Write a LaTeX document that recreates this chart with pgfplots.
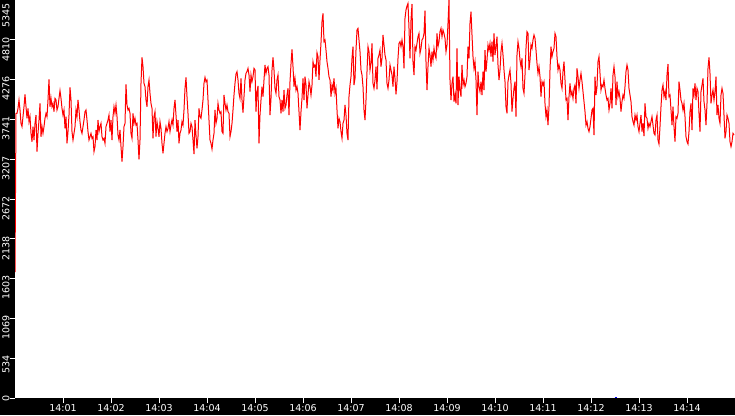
\documentclass[border=0pt]{standalone}
\usepackage{fontspec}
\setmainfont{DejaVu Sans}
\usepackage{pgfplots}
\usepackage{pgfplotstable}
\pgfplotsset{compat=1.18}

% one sample every 1.25 s, from 14:00:00
\pgfplotstableread[row sep=\\]{
v \\
1690 \\ 3823 \\ 3823 \\ 3890 \\ 4002 \\ 3868 \\ 3688 \\ 3644 \\ 3778 \\ 3912 \\
4078 \\ 3912 \\ 3756 \\ 3890 \\ 3711 \\ 3778 \\ 3554 \\ 3442 \\ 3644 \\ 3465 \\
3688 \\ 3800 \\ 3308 \\ 3554 \\ 3733 \\ 3957 \\ 3509 \\ 3644 \\ 3554 \\ 3644 \\
3756 \\ 3823 \\ 3778 \\ 4002 \\ 4280 \\ 3912 \\ 4024 \\ 3912 \\ 3957 \\ 3845 \\
4024 \\ 4002 \\ 3868 \\ 3912 \\ 4024 \\ 4127 \\ 4024 \\ 3890 \\ 3800 \\ 3868 \\
3621 \\ 3778 \\ 3420 \\ 3577 \\ 3800 \\ 4172 \\ 4002 \\ 3577 \\ 3465 \\ 3554 \\
3644 \\ 3868 \\ 3778 \\ 4002 \\ 3868 \\ 3711 \\ 3599 \\ 3554 \\ 3644 \\ 3733 \\
3845 \\ 3868 \\ 3733 \\ 3577 \\ 3465 \\ 3509 \\ 3554 \\ 3487 \\ 3509 \\ 3308 \\
3375 \\ 3599 \\ 3465 \\ 3733 \\ 3577 \\ 3644 \\ 3688 \\ 3509 \\ 3465 \\ 3487 \\
3420 \\ 3644 \\ 3688 \\ 3733 \\ 3800 \\ 3577 \\ 3733 \\ 3465 \\ 3778 \\ 3912 \\
3823 \\ 3935 \\ 3778 \\ 3532 \\ 3465 \\ 3599 \\ 3375 \\ 3174 \\ 3375 \\ 3644 \\
3688 \\ 4212 \\ 3935 \\ 3868 \\ 3890 \\ 3823 \\ 3554 \\ 3487 \\ 3823 \\ 3688 \\
3756 \\ 3666 \\ 3688 \\ 3465 \\ 3205 \\ 3465 \\ 4226 \\ 4575 \\ 4450 \\ 4226 \\
4181 \\ 4002 \\ 3912 \\ 4181 \\ 4271 \\ 4091 \\ 3957 \\ 3890 \\ 3487 \\ 3778 \\
3845 \\ 3509 \\ 3711 \\ 3621 \\ 3509 \\ 3711 \\ 3621 \\ 3420 \\ 3286 \\ 3420 \\
3554 \\ 3644 \\ 3577 \\ 3621 \\ 3711 \\ 3577 \\ 3666 \\ 3733 \\ 3666 \\ 3890 \\
4002 \\ 3800 \\ 3577 \\ 3733 \\ 3420 \\ 3554 \\ 3599 \\ 3711 \\ 3666 \\ 3868 \\
4159 \\ 4306 \\ 4047 \\ 3823 \\ 3554 \\ 3577 \\ 3688 \\ 3644 \\ 3465 \\ 3277 \\
3733 \\ 3532 \\ 3353 \\ 3509 \\ 3890 \\ 3778 \\ 3756 \\ 3868 \\ 4002 \\ 4226 \\
4306 \\ 4248 \\ 4271 \\ 4002 \\ 3733 \\ 3465 \\ 3420 \\ 3344 \\ 3465 \\ 3554 \\
3868 \\ 3688 \\ 3756 \\ 3957 \\ 3868 \\ 3823 \\ 3845 \\ 3577 \\ 3554 \\ 4069 \\
3957 \\ 3868 \\ 3935 \\ 3845 \\ 3823 \\ 3509 \\ 3577 \\ 3688 \\ 3868 \\ 4069 \\
4226 \\ 4351 \\ 4383 \\ 4271 \\ 4091 \\ 4024 \\ 4293 \\ 4002 \\ 3832 \\ 4047 \\
4271 \\ 4360 \\ 4383 \\ 4427 \\ 4338 \\ 4114 \\ 4338 \\ 4248 \\ 4315 \\ 4427 \\
4405 \\ 3845 \\ 4114 \\ 4190 \\ 3420 \\ 3800 \\ 4002 \\ 4181 \\ 4047 \\ 4271 \\
4472 \\ 4360 \\ 4427 \\ 4450 \\ 4338 \\ 3800 \\ 4024 \\ 4405 \\ 4575 \\ 4405 \\
4159 \\ 4091 \\ 4271 \\ 4338 \\ 4047 \\ 4002 \\ 3823 \\ 4002 \\ 3845 \\ 4136 \\
3890 \\ 3935 \\ 4069 \\ 4159 \\ 3800 \\ 4248 \\ 4485 \\ 4682 \\ 4450 \\ 4181 \\
4293 \\ 4136 \\ 4181 \\ 4091 \\ 3845 \\ 3599 \\ 3845 \\ 4024 \\ 4293 \\ 4002 \\
4315 \\ 4203 \\ 3890 \\ 4069 \\ 4248 \\ 4181 \\ 4069 \\ 4203 \\ 4517 \\ 4450 \\
4472 \\ 4315 \\ 4638 \\ 4584 \\ 4271 \\ 4539 \\ 4772 \\ 5054 \\ 5166 \\ 4785 \\
4808 \\ 4673 \\ 4517 \\ 4427 \\ 4315 \\ 4271 \\ 4047 \\ 4203 \\ 4136 \\ 4293 \\
4091 \\ 4159 \\ 3868 \\ 3621 \\ 3756 \\ 3711 \\ 3577 \\ 3487 \\ 3688 \\ 3733 \\
3935 \\ 3800 \\ 3554 \\ 3465 \\ 4047 \\ 4203 \\ 4315 \\ 4562 \\ 4718 \\ 4203 \\
4293 \\ 4673 \\ 4942 \\ 4964 \\ 4808 \\ 4651 \\ 4405 \\ 4338 \\ 4181 \\ 3868 \\
3733 \\ 4002 \\ 4383 \\ 4718 \\ 4651 \\ 4405 \\ 4494 \\ 4763 \\ 4226 \\ 4159 \\
4271 \\ 4450 \\ 4145 \\ 4562 \\ 4606 \\ 4673 \\ 4450 \\ 4562 \\ 4875 \\ 4741 \\
4606 \\ 4539 \\ 4226 \\ 4159 \\ 4271 \\ 4472 \\ 4405 \\ 4338 \\ 4181 \\ 4450 \\
4293 \\ 4078 \\ 4248 \\ 4562 \\ 4763 \\ 4785 \\ 4718 \\ 4808 \\ 4718 \\ 4427 \\
5099 \\ 5211 \\ 5264 \\ 5300 \\ 4964 \\ 4562 \\ 5076 \\ 5291 \\ 4517 \\ 4338 \\
4718 \\ 4673 \\ 4763 \\ 4852 \\ 4897 \\ 4629 \\ 4696 \\ 4808 \\ 4830 \\ 4897 \\
5202 \\ 4517 \\ 4136 \\ 4450 \\ 4696 \\ 4606 \\ 4450 \\ 4651 \\ 4539 \\ 4696 \\
4606 \\ 4562 \\ 4897 \\ 4718 \\ 4785 \\ 4920 \\ 4964 \\ 4852 \\ 4942 \\ 4897 \\
4830 \\ 4651 \\ 4741 \\ 5032 \\ 5345 \\ 4271 \\ 4002 \\ 4226 \\ 4315 \\ 3980 \\
4069 \\ 3957 \\ 4696 \\ 3935 \\ 4315 \\ 4136 \\ 4047 \\ 4472 \\ 4203 \\ 4271 \\
4181 \\ 4226 \\ 4315 \\ 4718 \\ 4562 \\ 5032 \\ 5189 \\ 4875 \\ 4584 \\ 4427 \\
4517 \\ 4271 \\ 3800 \\ 4383 \\ 4181 \\ 4114 \\ 4248 \\ 4069 \\ 4383 \\ 4136 \\
4673 \\ 4383 \\ 4539 \\ 4741 \\ 4673 \\ 4763 \\ 4584 \\ 4785 \\ 4517 \\ 4897 \\
4606 \\ 4718 \\ 4852 \\ 4472 \\ 4271 \\ 4405 \\ 4651 \\ 4763 \\ 4606 \\ 4405 \\
4248 \\ 3912 \\ 3823 \\ 4248 \\ 4338 \\ 4405 \\ 4226 \\ 3845 \\ 4024 \\ 4159 \\
4248 \\ 3778 \\ 4606 \\ 4785 \\ 4696 \\ 4539 \\ 4450 \\ 4562 \\ 4159 \\ 4091 \\
4338 \\ 4696 \\ 4920 \\ 4897 \\ 4405 \\ 4539 \\ 4741 \\ 4696 \\ 4808 \\ 4875 \\
4830 \\ 4673 \\ 4494 \\ 4360 \\ 4450 \\ 4315 \\ 4047 \\ 4248 \\ 4203 \\ 4248 \\
3957 \\ 3778 \\ 3868 \\ 3666 \\ 3912 \\ 4405 \\ 4718 \\ 4584 \\ 4651 \\ 4696 \\
4897 \\ 4852 \\ 4584 \\ 4405 \\ 4472 \\ 4405 \\ 4226 \\ 4159 \\ 4383 \\ 4517 \\
4271 \\ 4002 \\ 4024 \\ 3733 \\ 4047 \\ 4226 \\ 4069 \\ 4114 \\ 4024 \\ 4159 \\
4203 \\ 3957 \\ 4427 \\ 4315 \\ 4159 \\ 4271 \\ 4360 \\ 4248 \\ 4114 \\ 3980 \\
3845 \\ 3666 \\ 3711 \\ 3621 \\ 3577 \\ 3644 \\ 3756 \\ 3868 \\ 3890 \\ 3532 \\
4315 \\ 4069 \\ 4181 \\ 4517 \\ 4584 \\ 4360 \\ 4136 \\ 4203 \\ 4181 \\ 4271 \\
4159 \\ 4069 \\ 4002 \\ 4024 \\ 3868 \\ 3957 \\ 4159 \\ 3890 \\ 4338 \\ 4450 \\
4315 \\ 3935 \\ 4248 \\ 4047 \\ 4114 \\ 4024 \\ 3845 \\ 3980 \\ 4069 \\ 4024 \\
4181 \\ 4383 \\ 4472 \\ 4405 \\ 4159 \\ 4069 \\ 3980 \\ 3778 \\ 3711 \\ 3666 \\
3800 \\ 3733 \\ 3800 \\ 3644 \\ 3577 \\ 3688 \\ 3800 \\ 3577 \\ 3688 \\ 3518 \\
3957 \\ 3778 \\ 3756 \\ 3621 \\ 3688 \\ 3644 \\ 3711 \\ 3778 \\ 3666 \\ 3554 \\
3532 \\ 3733 \\ 3800 \\ 3465 \\ 3411 \\ 3644 \\ 3912 \\ 4136 \\ 4203 \\ 4047 \\
4114 \\ 4002 \\ 4338 \\ 4485 \\ 4047 \\ 4069 \\ 3868 \\ 3666 \\ 3912 \\ 3644 \\
3442 \\ 3778 \\ 3756 \\ 3823 \\ 4248 \\ 4136 \\ 4002 \\ 3957 \\ 3868 \\ 3957 \\
3778 \\ 3509 \\ 3442 \\ 3411 \\ 3577 \\ 3845 \\ 3957 \\ 3599 \\ 4159 \\ 4069 \\
4226 \\ 4002 \\ 4159 \\ 4114 \\ 3823 \\ 3577 \\ 4114 \\ 4203 \\ 4293 \\ 3980 \\
3868 \\ 3666 \\ 3957 \\ 4427 \\ 4575 \\ 4360 \\ 3957 \\ 4069 \\ 4136 \\ 4002 \\
4114 \\ 4315 \\ 3800 \\ 3935 \\ 3756 \\ 3688 \\ 4069 \\ 4159 \\ 4091 \\ 3800 \\
3487 \\ 3577 \\ 3800 \\ 3756 \\ 3688 \\ 3442 \\ 3375 \\ 3442 \\ 3554 \\ 3532 \\
}\rate

\begin{document}
\begin{tikzpicture}[x=1pt,y=1pt]
\fill[black] (-15,-17) rectangle (720,398);
\begin{axis}[
  at={(0,0)}, anchor=south west,
  scale only axis, width=720pt, height=398pt,
  xmin=0, xmax=900, ymin=0, ymax=5345,
  axis background/.style={fill=white},
  axis line style={draw=none},
  axis x line*=bottom, axis y line*=left,
  tick align=outside, major tick length=5pt,
  tick style={white, line width=1pt},
  xtick={60,120,...,840},
  xticklabels={14:01,14:02,14:03,14:04,14:05,14:06,14:07,14:08,14:09,14:10,14:11,14:12,14:13,14:14},
  ytick={0,534.5,1069,1603.5,2138,2672.5,3207,3741.5,4276,4810.5},
  yticklabels={0,534,1069,1603,2138,2672,3207,3741,4276,4810},
  extra y ticks={5345},
  extra y tick labels={5345},
  extra y tick style={yticklabel style={xshift=-6pt}},
  ticklabel style={white, font=\fontsize{9.5}{10}\selectfont},
  yticklabel style={xshift=-4pt, yshift=3pt, rotate=90, anchor=east, inner sep=0pt},
  xticklabel style={inner sep=0pt, yshift=-1pt},
  /pgf/number format/assume math mode=true,
]
\addplot[red, line width=1pt] table[x expr=\coordindex*1.25, y=v] {\rate};
\addplot[blue, line width=1pt, forget plot] coordinates {(749.5,8) (752,8)};
\end{axis}
\pgfresetboundingbox
\path[use as bounding box] (-15,-17) rectangle (720,398);
\end{tikzpicture}
\end{document}
